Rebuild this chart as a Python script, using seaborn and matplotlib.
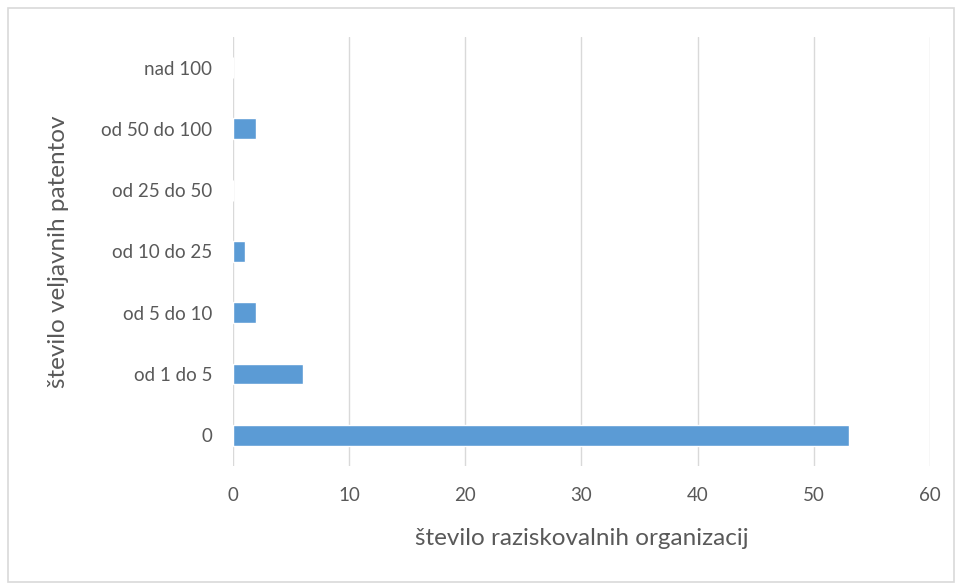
import matplotlib
matplotlib.use("Agg")
import matplotlib.pyplot as plt
import pandas as pd
import seaborn as sns
from matplotlib.patches import Rectangle

categories = ["0", "od 1 do 5", "od 5 do 10", "od 10 do 25", "od 25 do 50", "od 50 do 100", "nad 100"]
counts = [53, 6, 2, 1, 0, 2, 0]
x_ticks = [0, 10, 20, 30, 40, 50, 60]

df = pd.DataFrame({"kategorija": categories, "stevilo": counts})

sns.set_style("white")
plt.rcParams["font.family"] = ["Lato", "DejaVu Sans"]
text_color = "#595959"

fig = plt.figure(figsize=(9.6, 5.85), dpi=100)
ax = fig.add_axes([0.2427, 0.2034, 0.7260, 0.7334])

# seaborn draws categories top-down; reverse so "0" sits at the bottom
sns.barplot(data=df.iloc[::-1], x="stevilo", y="kategorija", orient="h",
            color="#5B9BD5", saturation=1, width=0.34, ax=ax)

ax.set_xlim(0, 60)
ax.set_ylim(6.5, -0.5)
ax.set_xticks(x_ticks)
ax.xaxis.grid(True, color="#D9D9D9", linewidth=1)
ax.set_axisbelow(True)
for s in ax.spines.values():
    s.set_visible(False)
ax.tick_params(axis="both", length=0, labelsize=13.5, colors=text_color)
ax.tick_params(axis="x", pad=15)
ax.tick_params(axis="y", pad=15)

ax.set_xlabel("število raziskovalnih organizacij", fontsize=17.5, color=text_color, va="center")
ax.set_ylabel("število veljavnih patentov", fontsize=17.5, color=text_color, va="center")
ax.xaxis.set_label_coords(0.5, -0.168)
ax.yaxis.set_label_coords(-0.251, 0.5)

fig.add_artist(Rectangle((8 / 960, 3 / 585), 946 / 960, 574 / 585, transform=fig.transFigure,
                         fill=False, edgecolor="#D9D9D9", linewidth=1.2))

fig.savefig("out.png", dpi=100)
